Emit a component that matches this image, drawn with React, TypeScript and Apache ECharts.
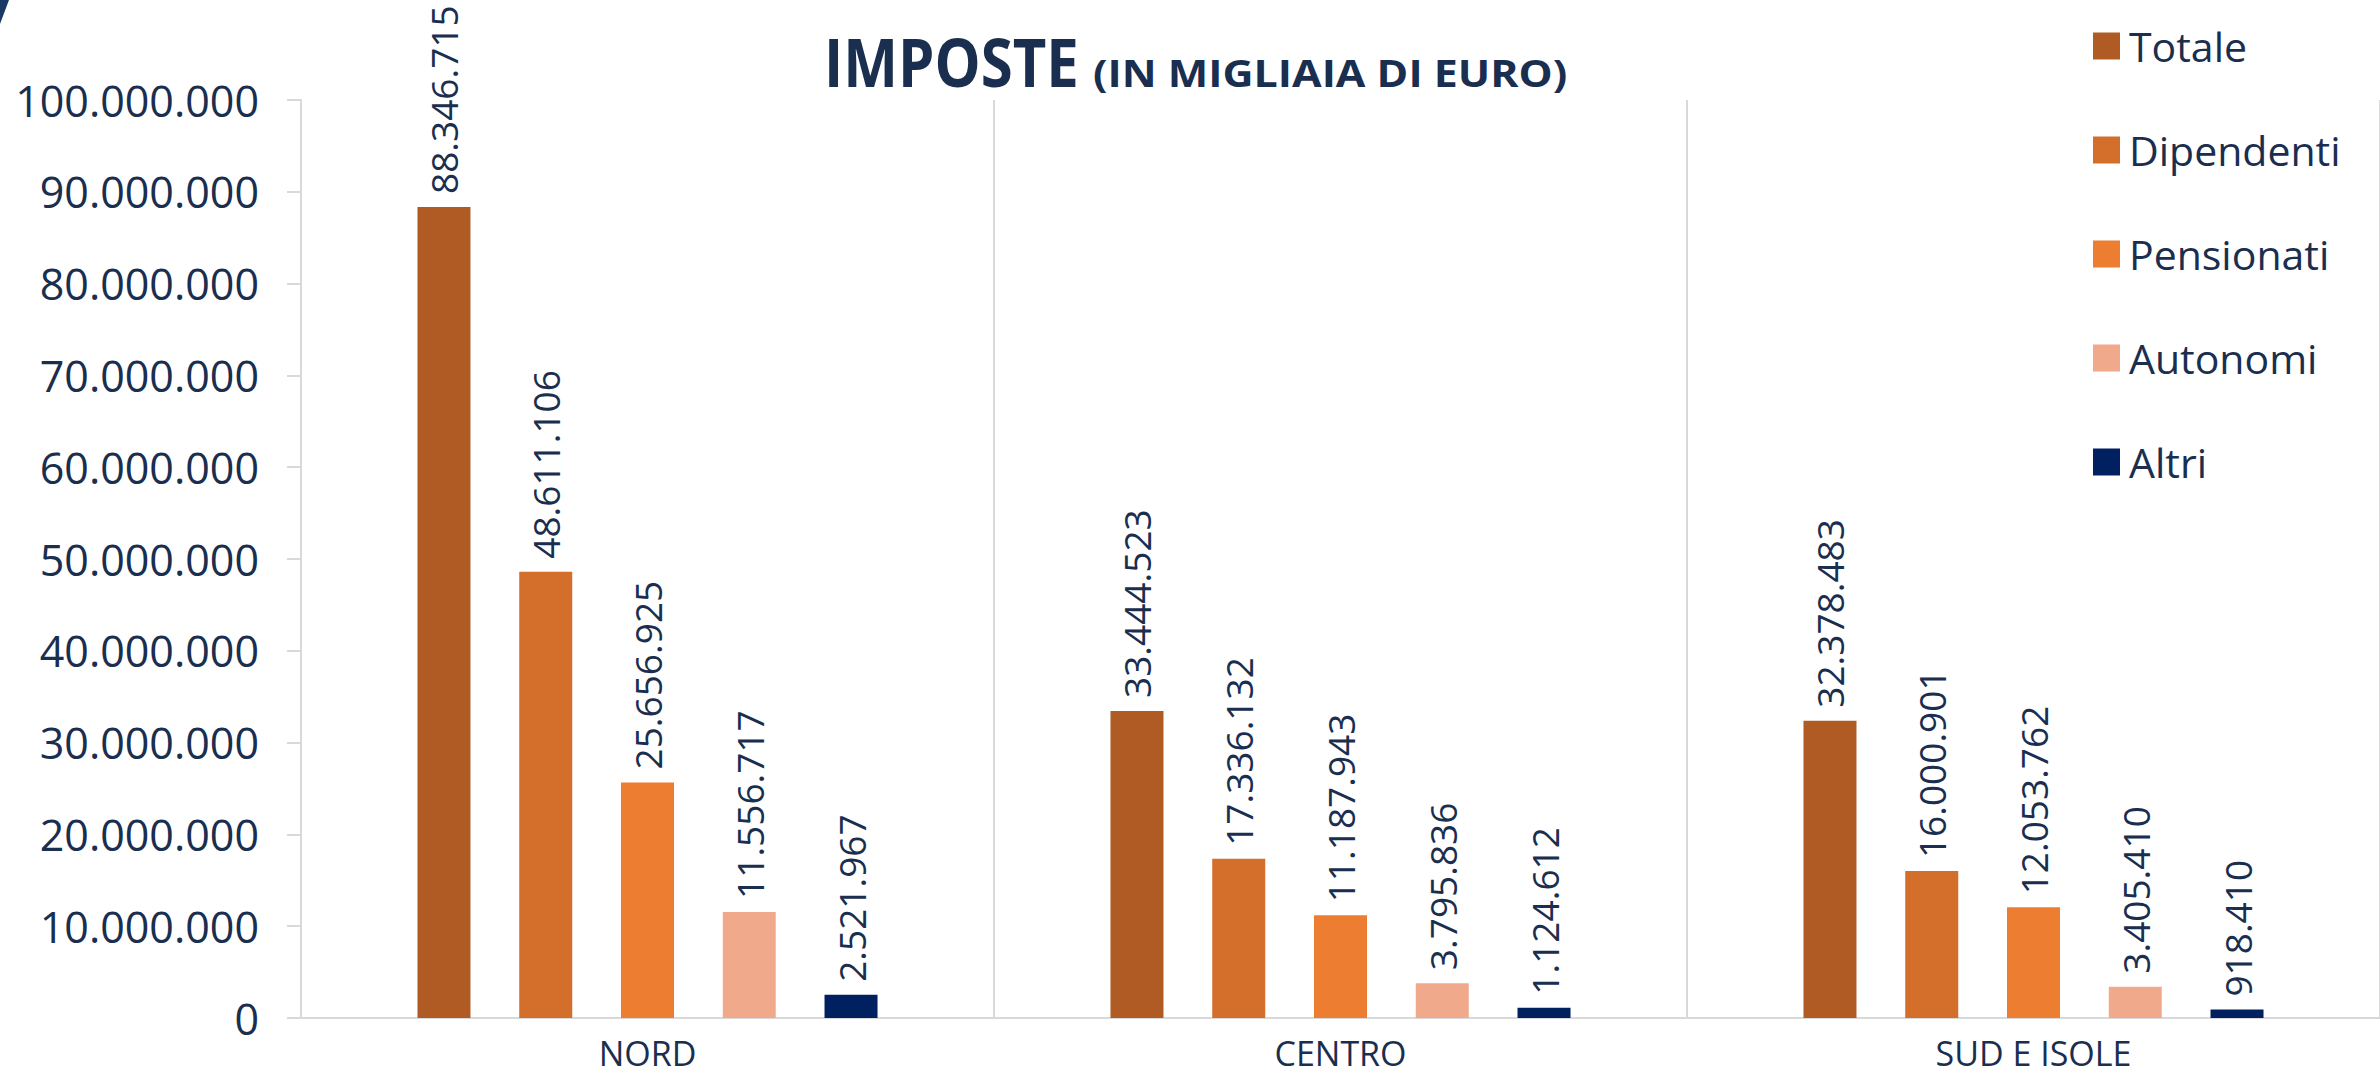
import React, { useEffect, useRef } from "react";
import * as echarts from "echarts";

const categories = ["NORD", "CENTRO", "SUD E ISOLE"];
const seriesNames = ["Totale", "Dipendenti", "Pensionati", "Autonomi", "Altri"];
const totale = [88346715, 33444523, 32378483];
const dipendenti = [48611106, 17336132, 16000901];
const pensionati = [25656925, 11187943, 12053762];
const autonomi = [11556717, 3795836, 3405410];
const altri = [2521967, 1124612, 918410];
const colors = ["#B05B23", "#D36E2B", "#ED7D31", "#F1A98B", "#002060"];
const yTicks = { min: 0, max: 100000000, interval: 10000000 };
const titleMain = "IMPOSTE";
const titleSub = "(IN MIGLIAIA DI EURO)";

const TEXT = "#1A2E4F";
const FONT = "'Open Sans', sans-serif";

function fmt(v: number): string {
  return String(Math.round(v)).replace(/\B(?=(\d{3})+(?!\d))/g, ".");
}

export default function App() {
  const ref = useRef<HTMLDivElement>(null);
  useEffect(() => {
    if (!ref.current) return;
    const chart = echarts.init(ref.current, undefined, { renderer: "svg" });
    const data = [totale, dipendenti, pensionati, autonomi, altri];
    chart.setOption({
      animation: false,
      backgroundColor: "#ffffff",
      textStyle: { fontFamily: FONT },
      legend: {
        orient: "vertical",
        left: 2088,
        top: 20,
        itemWidth: 27,
        itemHeight: 27,
        itemGap: 62,
        icon: "rect",
        data: seriesNames,
        textStyle: {
          fontFamily: FONT,
          fontSize: 41,
          color: TEXT,
          lineHeight: 42,
          padding: [0, 0, 0, 4],
        },
      },
      grid: { left: 301, top: 100, width: 2085, height: 918, containLabel: false },
      xAxis: {
        type: "category",
        data: categories,
        boundaryGap: true,
        axisLine: { show: true, lineStyle: { color: "#D9D9D9", width: 2 } },
        axisTick: { show: false },
        splitLine: { show: true, interval: 0, lineStyle: { color: "#D9D9D9", width: 2 } },
        axisLabel: {
          color: TEXT,
          fontFamily: FONT,
          fontSize: 34,
          lineHeight: 34,
          margin: 18,
          interval: 0,
        },
      },
      yAxis: {
        type: "value",
        min: yTicks.min,
        max: yTicks.max,
        interval: yTicks.interval,
        axisLine: { show: true, lineStyle: { color: "#D9D9D9", width: 2 } },
        axisTick: { show: true, length: 14, lineStyle: { color: "#D9D9D9", width: 2 } },
        splitLine: { show: false },
        axisLabel: {
          color: TEXT,
          fontFamily: FONT,
          fontSize: 43,
          margin: 42,
          formatter: (v: number) => fmt(v),
        },
      },
      series: seriesNames.map((name, i) => ({
        name,
        type: "bar",
        data: data[i],
        barWidth: 53,
        barGap: "92%",
        itemStyle: { color: colors[i] },
        label: {
          show: true,
          position: "top",
          rotate: 90,
          align: "left",
          verticalAlign: "middle",
          distance: 13,
          color: TEXT,
          fontFamily: FONT,
          fontSize: 37,
          formatter: (p: any) => fmt(p.value),
        },
      })),
      graphic: [
        {
          type: "polygon",
          shape: { points: [[0, 0], [9, 0], [0, 24]] },
          style: { fill: "#1A3A66" },
        },
        {
          type: "text",
          x: 824,
          y: 62,
          scaleX: 0.88,
          style: {
            text: titleMain,
            fill: TEXT,
            fontFamily: FONT,
            fontWeight: "bold",
            fontSize: 66,
            textAlign: "left",
            textVerticalAlign: "middle",
          },
        },
        {
          type: "text",
          x: 1093,
          y: 72,
          scaleX: 1.13,
          style: {
            text: titleSub,
            fill: TEXT,
            fontFamily: FONT,
            fontWeight: "bold",
            fontSize: 38,
            textAlign: "left",
            textVerticalAlign: "middle",
          },
        },
      ],
    });
    return () => chart.dispose();
  }, []);
  return (
    <div
      ref={ref}
      style={{ position: "fixed", left: 0, top: 0, width: 2380, height: 1078 }}
    />
  );
}
